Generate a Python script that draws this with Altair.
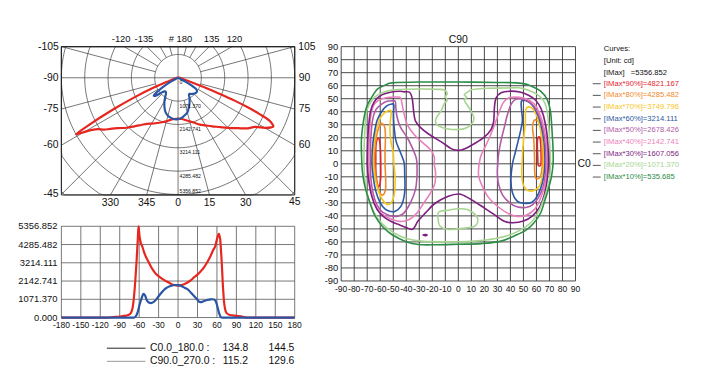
import math
import altair as alt
import pandas as pd

FONT = "Liberation Sans"
IMAX = 5356.852
STEP = 1071.370

# ---------------- luminous intensity curves (gamma deg -> cd) ----------------
RED_ANG = [-180, -110, -100, -90, -80, -75, -72, -70, -68, -66, -64, -62, -61, -59.5, -57.5,
           -55, -53, -50, -46, -42, -38, -34, -30, -25, -20, -15, -10, -5, 0, 5,
           10, 15, 20, 25, 30, 35, 40, 45, 50, 54, 57.5, 60, 62, 63, 64,
           65, 66, 67, 68, 69, 70, 71, 72.5, 75, 80, 90, 100, 105, 180]
RED_VAL = [0, 0, 30, 60, 110, 180, 330, 600, 1200, 2150, 3300, 4700, 5356.852, 4800, 4390,
           4150, 3900, 3600, 3300, 3000, 2750, 2550, 2430, 2290, 2170, 2070, 1960, 1900, 1876, 1900,
           1970, 2070, 2200, 2370, 2520, 2720, 2950, 3250, 3600, 3950, 4200, 4600, 4850, 4912, 4800,
           4600, 4100, 3500, 2800, 2000, 1400, 900, 520, 260, 150, 100, 50, 0, 0]
BLUE_ANG = [-180, -68, -65, -62, -59, -56, -53.5, -51, -48, -45, -42, -38, -34, -30, -25,
            -20, -15, -10, -5, 0, 5, 10, 15, 20, 25, 30, 33, 36, 40, 45,
            50, 54, 57.5, 60, 62, 64, 66, 68, 180]
BLUE_VAL = [0, 0, 80, 350, 800, 1150, 1390, 1300, 1000, 880, 850, 900, 1050, 1250, 1480,
            1680, 1800, 1870, 1910, 1900, 1850, 1750, 1650, 1450, 1250, 1050, 920, 910, 970, 1030,
            1070, 1075, 1000, 750, 450, 180, 30, 0, 0]

RING_LABELS = ["0", "1071.370", "2142.741", "3214.111", "4285.482"]
RING_MAX_LABEL = "5356.852"
LIN_Y_LABELS = ["0.000", "1071.370", "2142.741", "3214.111", "4285.482", "5356.852"]
LIN_X_TICKS = [-180, -150, -120, -90, -60, -30, 0, 30, 60, 90, 120, 150, 180]

POL_LEFT_ANG = [-105, -90, -75, -60, -45]
POL_LEFT_TXT = ["-105", "-90", "-75", "-60", "-45"]
POL_RIGHT_ANG = [105, 90, 75, 60]
POL_RIGHT_TXT = ["105", "90", "75", "60"]
POL_BOTTOM_ANG = [-30, -15, 0, 15, 30, 45]
POL_BOTTOM_TXT = ["330", "345", "0", "15", "30", "45"]
POL_TOPL_ANG = [-120, -135]
POL_TOPL_TXT = ["-120", "-135"]
POL_TOPR_ANG = [180, 135, 120]
POL_TOPR_TXT = ["# 180", "135", "120"]

# ---------------- isocandela contours (C0 deg, C90 deg) ----------------
RED90_L = [(-62, 19.5), (-60.6, 18), (-59.8, 10), (-59.6, 0), (-59.6, -10), (-60.3, -16), (-61.5, -17.5),
           (-62.7, -13), (-63.4, -5), (-63.4, 5), (-63.3, 14)]
RED90_R = [(61.2, 20), (62.8, 19.6), (63.5, 10), (63.5, 0), (62.8, -1.5), (61.3, -1), (61, 5), (60.7, 15)]
ORANGE80_L = [(-58.5, 31), (-56.5, 28), (-56, 20), (-56.3, 10), (-56.3, 0), (-55.8, -12), (-56, -20), (-58, -24),
              (-60.4, -22), (-62.5, -15), (-64, -5), (-64.4, 5), (-63.8, 15), (-62, 25), (-60, 30)]
ORANGE80_R = [(58, 33), (60.5, 33.3), (62.6, 30), (64, 20), (64.5, 8), (64.3, -3), (63, -10), (61, -11.5),
              (59.2, -10.5), (58.6, -5), (58.5, 5), (58, 18), (57, 28)]
YELLOW70_L = [(-53, 41), (-51.5, 39.5), (-52.5, 30), (-52, 18), (-50, 9), (-49.5, 0), (-48.5, -12), (-49.5, -25),
              (-52, -30.5), (-55, -31), (-58, -28), (-61, -22), (-63.5, -13), (-65, -4), (-65.4, 5), (-64.5, 18),
              (-62.5, 28), (-60, 35), (-57, 39)]
YELLOW70_R = [(52.5, 43), (55.5, 43.5), (58.5, 40.5), (61.5, 33), (64, 22), (65.3, 10), (65.5, 0), (64.5, -10),
              (62, -17.5), (58, -20.5), (53.5, -20.5), (50, -16.5), (48.7, -8), (49, 0), (49.5, 11), (50.5, 22),
              (51.5, 32), (51.5, 40)]
BLUE60_L = [(-51, 46), (-49.5, 45), (-49.8, 38), (-49.5, 30), (-48, 18), (-45, 10), (-43, 5), (-41.5, 0),
            (-41.2, -8), (-41, -18), (-41.8, -26), (-44, -32.5), (-48.5, -36.5), (-52, -36.6), (-56, -35),
            (-60, -30), (-63.4, -21), (-65.4, -10), (-66.4, 0), (-66, 12), (-64.8, 22), (-62.5, 33), (-59, 40),
            (-55, 44.5)]
BLUE60_R = [(48.5, 48.2), (52, 48.5), (56, 46), (60, 40), (63.5, 30), (65.8, 17), (66.5, 5), (66.2, -5),
            (64.5, -15), (61, -24), (56.5, -29.5), (50, -30.3), (45, -28.5), (41.5, -22), (40.4, -12), (41.6, 0),
            (43.5, 7.7), (45.4, 15.3), (47.5, 24), (49.2, 33), (48.5, 42)]
MAUVE50_L = [(-51, 48.5), (-48.5, 48), (-48, 43), (-47, 35.6), (-44.4, 28), (-39.4, 20.4), (-35.6, 12.8),
             (-32.5, 5), (-31.8, 0), (-31.8, -10), (-33, -20), (-36.8, -30), (-41.9, -37.9), (-46.5, -40.3),
             (-50, -40.4), (-54.6, -39.1), (-60, -35.5), (-64, -28), (-66.5, -17), (-67.5, -6), (-67.6, 5),
             (-67.2, 20), (-66, 33), (-63.4, 41.5), (-58, 46.5), (-55, 48)]
MAUVE50_R = [(44, 49.5), (48, 49.8), (53, 48.5), (57.5, 45), (61.5, 38), (64.8, 28), (66.8, 15), (67.3, 3),
             (67, -8), (65, -18), (61.5, -26), (57, -31.5), (51.8, -33.5), (45, -33), (39.5, -30), (34, -24),
             (31, -16), (30, -8), (30.3, 0), (31, 8), (32.8, 17.8), (35.3, 28), (37.8, 38), (40.5, 45.7)]
PINK40_L = [(-48, 51.3), (-44.4, 50.8), (-43.2, 45.7), (-41.9, 39.4), (-39.4, 30.5), (-34.3, 22.9),
            (-29.2, 17.8), (-21, 10.5), (-18.5, 5), (-18.5, 0), (-17.5, -7.5), (-18, -15), (-21.6, -22.7),
            (-26.7, -30.3), (-31.8, -37.9), (-38.1, -43), (-45.7, -44.2), (-53.3, -41.6), (-60, -37.5),
            (-64.5, -30), (-67.5, -18), (-68.7, -5), (-68.8, 5), (-68.4, 20), (-67.5, 35), (-65.5, 44),
            (-62.2, 48.2), (-55.8, 50.8)]
PINK40_R = [(38.5, 50.5), (44.2, 51.2), (50, 50.5), (55, 48.5), (59.5, 44.5), (63, 37), (66, 27), (67.8, 15),
            (68.2, 3), (67.8, -8), (66, -18), (62.5, -28), (58.5, -35), (52, -39.6), (45.4, -40.4), (37.8, -37.9),
            (30.3, -32.8), (22.7, -25.2), (18, -16.3), (15.5, -8.7), (16, 0), (17.5, 6.5), (20.5, 12.8),
            (24, 20.4), (28, 30.5), (31.5, 40), (34.5, 47)]
PURPLE30 = [(-41.9, 55.3), (-37.5, 55), (-35.6, 51), (-34.8, 45), (-34.3, 40), (-33, 33), (-29.2, 28),
            (-22.9, 22.9), (-12.8, 16.6), (-5.2, 11.5), (0, 10.3), (5, 11.5), (12.5, 15.6), (20.1, 20.7),
            (25.2, 26.5), (27.2, 33), (27.7, 43), (29, 50.6), (32.8, 54.6), (39.1, 55.8), (48, 55), (54.3, 52.5),
            (59.4, 48.8), (63.7, 42), (67, 30), (68.8, 15), (69.2, 0), (68.2, -12.5), (66, -24), (62.5, -33),
            (57, -40), (50, -44), (42, -45.3), (35.3, -44.2), (27.7, -39.1), (20.1, -34), (12.5, -29),
            (4.9, -24.7), (0, -23.2), (-7.7, -25), (-17.8, -30.3), (-25.4, -37.9), (-31, -44), (-33.5, -48.5),
            (-35.6, -50.5), (-40, -49), (-45, -47), (-50.8, -44.7), (-57, -41), (-62.5, -35), (-66.5, -25),
            (-69, -12), (-70, 0), (-69.7, 15), (-69, 28), (-67.5, 40), (-64.7, 47.5), (-59.6, 52.5), (-52, 55),
            (-45, 55.7)]
PURPLE30_DOT = [(-27, -54.6), (-25.5, -54.4), (-24, -54.7), (-25.5, -55.3)]
LGREEN20 = [(-70.5, 40), (-68, 46), (-64.7, 50.8), (-58.4, 54.6), (-49.5, 56.8), (-30.5, 57.5), (-14, 57.2),
            (-10.5, 56.5), (-8.5, 54), (-10, 51.5), (-8.5, 49), (-11, 46), (-13, 41), (-16.5, 36), (-17.5, 32),
            (-15, 29), (-9, 27), (0, 26.3), (6, 27.5), (10.5, 31), (12, 35), (10, 40), (7, 45), (4.5, 49),
            (6.5, 51), (4.5, 53), (7, 55), (10, 56.8), (15, 57.5), (22.7, 58), (35.3, 58.2), (46.7, 58.4),
            (54.3, 56.3), (60.6, 53.3), (65.7, 48.2), (68.2, 40.6), (69.5, 27.8), (70.3, 12.8), (70.8, 0),
            (70, -12), (68.2, -19), (66, -26), (62, -36), (57, -44), (50.5, -49.2), (40.4, -54.3),
            (27.7, -57.6), (12.5, -59.4), (0, -59.9), (-20, -59.8), (-35, -58.5), (-45, -55.5), (-54, -50),
            (-62, -42), (-68, -30), (-71.5, -15), (-72.5, 0), (-72.3, 15), (-71.5, 30)]
LGREEN20_B = [(-15, -37), (-7, -35.5), (0, -34.5), (7.5, -35.3), (13.8, -40), (15, -44.2), (12.5, -48),
              (5, -49.4), (-7.7, -50.5), (-14, -48), (-15.5, -43)]
DGREEN10 = [(-62, 57.5), (-55, 61), (-50.8, 62.2), (-30, 62.8), (0, 62.8), (30, 62.5), (45, 62.2), (52, 61.2),
            (57, 59.2), (63.2, 55.8), (68.2, 49.5), (70.8, 40), (72, 25), (72.8, 10), (72.8, 0), (71.5, -10),
            (69, -20), (66.5, -28), (63.2, -37.8), (58, -45.5), (52, -51), (45.4, -54.3), (32.8, -59.4),
            (17.6, -61.3), (0, -61.8), (-17.8, -62.2), (-30.5, -62), (-40.6, -59.6), (-50.8, -54.5),
            (-57, -49.5), (-61.5, -44), (-65, -38), (-67.5, -31), (-70.5, -22), (-72.5, -14), (-73.8, -5),
            (-74.3, 5), (-74.5, 18), (-73.3, 30), (-71.5, 40), (-69.5, 46), (-66, 52)]

LEVEL_PCT = [90, 80, 70, 60, 50, 40, 30, 20, 10]
LEVEL_VAL = ["4821.167", "4285.482", "3749.796", "3214.111", "2678.426", "2142.741", "1607.056",
             "1071.370", "535.685"]
LEVEL_COLORS = ["#e3262b", "#f0892a", "#f5c61d", "#2b57a5", "#b05aa6", "#ea7fbd", "#7d1e80",
                "#a6d58f", "#2a8c46"]
PIECES = [(RED90_L, 90), (RED90_R, 90), (ORANGE80_L, 80), (ORANGE80_R, 80), (YELLOW70_L, 70),
          (YELLOW70_R, 70), (BLUE60_L, 60), (BLUE60_R, 60), (MAUVE50_L, 50), (MAUVE50_R, 50),
          (PINK40_L, 40), (PINK40_R, 40), (PURPLE30, 30), (PURPLE30_DOT, 30), (LGREEN20, 20),
          (LGREEN20_B, 20), (DGREEN10, 10)]
CONTOUR_TICKS = list(range(-90, 91, 10))

BOTTOM_NAMES = ["C0.0_180.0 :", "C90.0_270.0 :"]
BOTTOM_A = ["134.8", "115.2"]
BOTTOM_B = ["144.5", "129.6"]
BOTTOM_LINE_COLORS = ["#222222", "#999999"]

RED = "#e6261f"
BLUE = "#2a55a4"
GRID = "#3a3a3a"

# ---------------- panel geometry (pixel ranges of each panel's scales) ----------------
W, H = 706, 365
P_XD = [-IMAX, IMAX]
P_YD = [-IMAX * 118.5 / 118.0, IMAX * 31.5 / 118.0]
P_XR, P_YR = [54, 290], [187, 37]
L_XD, L_YD = [-180, 180], [0, IMAX]
L_XR, L_YR = [54, 290], [311, 218.7]
C_XD, C_YD = [-90, 90], [-90, 90]
C_XR, C_YR = [337, 574], [274, 37]


def sc(dom, rng, clamp=False):
    return alt.Scale(domain=dom, range=rng, nice=False, zero=False, clamp=clamp)


def enc_xy(xd, xr, yd, yr, clamp=False, x="x", y="y"):
    return dict(x=alt.X(f"{x}:Q", scale=sc(xd, xr, clamp), axis=None),
                y=alt.Y(f"{y}:Q", scale=sc(yd, yr, clamp), axis=None))


def box_hit(theta):
    t = math.radians(theta)
    dx, dy = math.sin(t), -math.cos(t)
    c = []
    if dx > 1e-9:
        c.append(P_XD[1] / dx)
    if dx < -1e-9:
        c.append(P_XD[0] / dx)
    if dy > 1e-9:
        c.append(P_YD[1] / dy)
    if dy < -1e-9:
        c.append(P_YD[0] / dy)
    r = min(c)
    return r * dx, r * dy


layers = []

# ================= POLAR PANEL =================
circ = []
for k in range(1, 8):
    for i, d in enumerate(range(0, 362, 2)):
        t = math.radians(d)
        circ.append(dict(ring=k, i=i, x=k * STEP * math.sin(t), y=-k * STEP * math.cos(t)))
layers.append(alt.Chart(pd.DataFrame(circ)).mark_line(color=GRID, strokeWidth=0.7).encode(
    **enc_xy(P_XD, P_XR, P_YD, P_YR, clamp=True), detail="ring:N", order="i:Q"))

rad = []
for a in range(0, 360, 15):
    r0 = 0 if a % 90 == 0 else STEP
    t = math.radians(a)
    ex, ey = box_hit(a)
    rad.append(dict(x=r0 * math.sin(t), y=-r0 * math.cos(t), x2=ex, y2=ey))
layers.append(alt.Chart(pd.DataFrame(rad)).mark_rule(color=GRID, strokeWidth=0.7).encode(
    **enc_xy(P_XD, P_XR, P_YD, P_YR), x2="x2:Q", y2="y2:Q"))

frame_p = pd.DataFrame([dict(x=P_XD[0], x2=P_XD[1], y=P_YD[0], y2=P_YD[1])])
layers.append(alt.Chart(frame_p).mark_rect(fillOpacity=0, stroke="#222", strokeWidth=1).encode(
    **enc_xy(P_XD, P_XR, P_YD, P_YR), x2="x2:Q", y2="y2:Q"))


def polar_df(angs, vals):
    rows = []
    for i, (a, v) in enumerate(zip(angs, vals)):
        t = math.radians(a)
        rows.append(dict(i=i, x=v * math.sin(t), y=-v * math.cos(t)))
    return pd.DataFrame(rows)


for angs, vals, col in [(RED_ANG, RED_VAL, RED), (BLUE_ANG, BLUE_VAL, BLUE)]:
    layers.append(alt.Chart(polar_df(angs, vals)).mark_line(
        color=col, strokeWidth=2.2, interpolate="catmull-rom").encode(
        **enc_xy(P_XD, P_XR, P_YD, P_YR), order="i:Q"))

ring_df = pd.DataFrame([dict(x=0, y=-k * STEP, t=s) for k, s in enumerate(RING_LABELS)])
layers.append(alt.Chart(ring_df).mark_text(align="left", dx=1.5, dy=4.5, fontSize=5.2, font=FONT,
                                           color="#111").encode(**enc_xy(P_XD, P_XR, P_YD, P_YR), text="t:N"))
ringmax_df = pd.DataFrame([dict(x=0, y=-5 * STEP, t=RING_MAX_LABEL)])
layers.append(alt.Chart(ringmax_df).mark_text(align="left", dx=1.5, dy=-3.5, fontSize=5.2, font=FONT,
                                              color="#111").encode(**enc_xy(P_XD, P_XR, P_YD, P_YR), text="t:N"))


def label_df(angs, txts):
    rows = []
    for a, s in zip(angs, txts):
        x, y = box_hit(a)
        rows.append(dict(x=x, y=y, t=s))
    return pd.DataFrame(rows)


for angs, txts, kw in [
    (POL_LEFT_ANG, POL_LEFT_TXT, dict(align="right", dx=-3, fontSize=10.5)),
    (POL_RIGHT_ANG, POL_RIGHT_TXT, dict(align="left", dx=4, fontSize=10.5)),
    (POL_BOTTOM_ANG, POL_BOTTOM_TXT, dict(align="center", dy=8, fontSize=10.5)),
    (POL_TOPL_ANG, POL_TOPL_TXT, dict(align="center", dy=-8, dx=-3, fontSize=9.5)),
    (POL_TOPR_ANG, POL_TOPR_TXT, dict(align="center", dy=-8, dx=2.5, fontSize=9.5)),
]:
    layers.append(alt.Chart(label_df(angs, txts)).mark_text(color="#111", font=FONT, **kw).encode(
        **enc_xy(P_XD, P_XR, P_YD, P_YR), text="t:N"))

# ================= LINEAR PANEL =================
lin_v = pd.DataFrame([dict(x=v, y=0, y2=IMAX) for v in LIN_X_TICKS])
layers.append(alt.Chart(lin_v).mark_rule(color="#555", strokeWidth=0.8).encode(
    **enc_xy(L_XD, L_XR, L_YD, L_YR), y2="y2:Q"))
lin_h = pd.DataFrame([dict(x=-180, x2=180, y=k * STEP) for k in range(6)])
layers.append(alt.Chart(lin_h).mark_rule(color="#555", strokeWidth=0.8).encode(
    **enc_xy(L_XD, L_XR, L_YD, L_YR), x2="x2:Q"))
for angs, vals, col in [(RED_ANG, RED_VAL, RED), (BLUE_ANG, BLUE_VAL, BLUE)]:
    d = pd.DataFrame(dict(x=angs, y=vals))
    layers.append(alt.Chart(d).mark_line(color=col, strokeWidth=2.2, interpolate="monotone").encode(
        **enc_xy(L_XD, L_XR, L_YD, L_YR)))
ly = pd.DataFrame([dict(x=-180, y=k * STEP, t=s) for k, s in enumerate(LIN_Y_LABELS)])
layers.append(alt.Chart(ly).mark_text(align="right", dx=-4, fontSize=9.5, font=FONT, color="#111").encode(
    **enc_xy(L_XD, L_XR, L_YD, L_YR), text="t:N"))
lx = pd.DataFrame([dict(x=v, y=0, t=str(v)) for v in LIN_X_TICKS])
layers.append(alt.Chart(lx).mark_text(align="center", dy=8, fontSize=8.6, font=FONT, color="#111").encode(
    **enc_xy(L_XD, L_XR, L_YD, L_YR), text="t:N"))

# ================= CONTOUR PANEL =================
cg_v = pd.DataFrame([dict(x=v, y=-90, y2=90) for v in CONTOUR_TICKS])
layers.append(alt.Chart(cg_v).mark_rule(color="#333", strokeWidth=0.9).encode(
    **enc_xy(C_XD, C_XR, C_YD, C_YR), y2="y2:Q"))
cg_h = pd.DataFrame([dict(x=-90, x2=90, y=v) for v in CONTOUR_TICKS])
layers.append(alt.Chart(cg_h).mark_rule(color="#333", strokeWidth=0.9).encode(
    **enc_xy(C_XD, C_XR, C_YD, C_YR), x2="x2:Q"))

crow = []
for pid, (pts, lvl) in enumerate(PIECES):
    for i, (x, y) in enumerate(pts):
        crow.append(dict(piece=pid, lvl=f"{lvl}%", i=i, x=x, y=y))
lvl_names = [f"{p}%" for p in LEVEL_PCT]
layers.append(alt.Chart(pd.DataFrame(crow)).mark_line(strokeWidth=1.6, interpolate="cardinal-closed").encode(
    **enc_xy(C_XD, C_XR, C_YD, C_YR),
    color=alt.Color("lvl:N", scale=alt.Scale(domain=lvl_names, range=LEVEL_COLORS), legend=None),
    detail="piece:N", order="i:Q"))

cy = pd.DataFrame([dict(x=-90, y=v, t=str(v)) for v in CONTOUR_TICKS])
layers.append(alt.Chart(cy).mark_text(align="right", dx=-3, fontSize=9.5, font=FONT, color="#111").encode(
    **enc_xy(C_XD, C_XR, C_YD, C_YR), text="t:N"))
cx = pd.DataFrame([dict(x=v, y=-90, t=str(v)) for v in CONTOUR_TICKS])
layers.append(alt.Chart(cx).mark_text(align="center", dy=8, fontSize=8.6, font=FONT, color="#111").encode(
    **enc_xy(C_XD, C_XR, C_YD, C_YR), text="t:N"))
ct = pd.DataFrame([dict(x=0, y=90, t="C90")])
layers.append(alt.Chart(ct).mark_text(align="center", dy=-7, fontSize=10.5, font=FONT, color="#111").encode(
    **enc_xy(C_XD, C_XR, C_YD, C_YR), text="t:N"))
c0 = pd.DataFrame([dict(x=90, y=0, t="C0")])
layers.append(alt.Chart(c0).mark_text(align="left", dx=2, fontSize=10.5, font=FONT, color="#111").encode(
    **enc_xy(C_XD, C_XR, C_YD, C_YR), text="t:N"))

# ================= LEGEND (right) =================
head = pd.DataFrame(dict(row=[0, 1, 2], t=["Curves:", "[Unit: cd]", "[IMax]"]))
head_y = alt.Y("row:Q", scale=alt.Scale(domain=[0, 2], range=[39.3, 63.7]), axis=None)
layers.append(alt.Chart(head).mark_text(align="left", fontSize=7.7, font=FONT, color="#111").encode(
    x=alt.value(602.7), y=head_y, text="t:N"))
imax_df = pd.DataFrame(dict(row=[2], t=[f"={IMAX:.3f}"]))
layers.append(alt.Chart(imax_df).mark_text(align="left", fontSize=7.7, font=FONT, color="#111").encode(
    x=alt.value(630), y=head_y, text="t:N"))

leg = pd.DataFrame(dict(row=list(range(9)), lvl=lvl_names,
                        t=[f"[IMax*{p}%]={v}" for p, v in zip(LEVEL_PCT, LEVEL_VAL)]))
leg_y = alt.Y("row:Q", scale=alt.Scale(domain=[0, 8], range=[74.5, 168.9]), axis=None)
layers.append(alt.Chart(leg).mark_rule(color="#555", strokeWidth=1).encode(
    x=alt.value(591.5), x2=alt.value(599.5), y=leg_y))
layers.append(alt.Chart(leg).mark_text(align="left", fontSize=7.7, font=FONT).encode(
    x=alt.value(602.7), y=leg_y, text="t:N",
    color=alt.Color("lvl:N", scale=alt.Scale(domain=lvl_names, range=LEVEL_COLORS), legend=None)))

# ================= bottom summary =================
bot = pd.DataFrame(dict(row=[0, 1], name=BOTTOM_NAMES, a=BOTTOM_A, b=BOTTOM_B, c=BOTTOM_LINE_COLORS))
bot_y = alt.Y("row:Q", scale=alt.Scale(domain=[0, 1], range=[342, 355.3]), axis=None)
layers.append(alt.Chart(bot).mark_rule(strokeWidth=1).encode(
    x=alt.value(100), x2=alt.value(139), y=bot_y, color=alt.Color("c:N", scale=None)))
for field, xpix, al in [("name", 143.7, "left"), ("a", 230, "center"), ("b", 276.5, "center")]:
    layers.append(alt.Chart(bot).mark_text(align=al, fontSize=10.5, font=FONT, color="#111").encode(
        x=alt.value(xpix), y=bot_y, text=f"{field}:N"))

chart = alt.layer(*layers).resolve_scale(
    x="independent", y="independent", color="independent"
).properties(
    width=W, height=H, autosize=alt.AutoSizeParams(type="none"), padding=0
).configure_view(strokeOpacity=0)

chart.save("out.html", embed_options={"renderer": "svg", "actions": False})
